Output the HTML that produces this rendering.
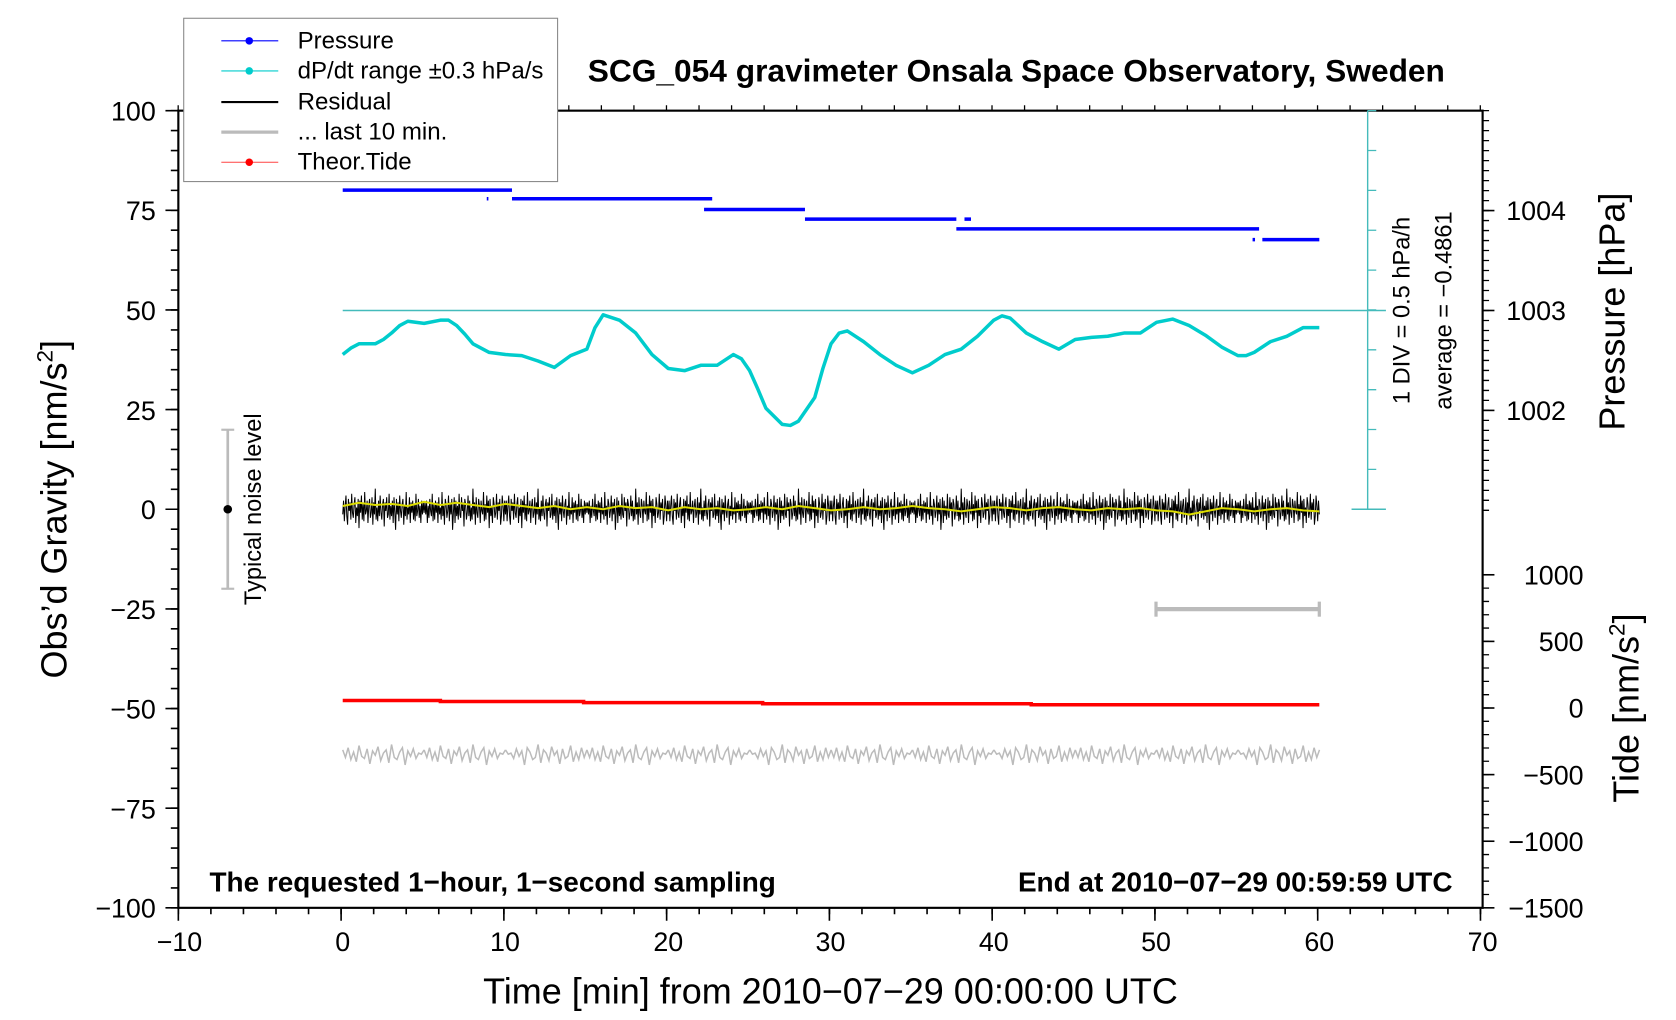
<!DOCTYPE html>
<html><head><meta charset="utf-8"><style>
html,body{margin:0;padding:0;background:#fff;}
svg{display:block;font-family:"Liberation Sans",sans-serif;}
</style></head><body>
<svg width="1676" height="1020" viewBox="0 0 1560 949.4" xmlns="http://www.w3.org/2000/svg">
<defs>
<polyline id="nz" fill="none" stroke="#000" stroke-width="1" vector-effect="non-scaling-stroke" points="0,477 1,469 2,481 3,472 4,466 5,478 6,483 7,468 8,475 9,470 10,480 11,465 12,476 13,479 14,471 15,467 16,482 17,473 18,478 19,468 20,485 21,469 22,476 23,466 24,480 25,471 26,481 27,464 28,477 29,475 30,469 31,482 32,472 33,468 34,479 35,476 36,467 37,483 38,470 39,477 40,462 41,480 42,473 43,481 44,469 45,478 46,466 47,476 48,480 49,471 50,468 51,484 52,470 53,475 54,467 55,479 56,477 57,465 58,480 59,472 60,478 61,469 62,482 63,467 64,476 65,486 66,468 67,477 68,470 69,481 70,466 71,475 72,479 73,471 74,468 75,483 76,472 77,478 78,464 79,480 80,473 81,477 82,467 83,482 84,470 85,476 86,469 87,480 88,471 89,481 90,465 91,478 92,475 93,468 94,479 95,472 96,482 97,469 98,477 99,470 100,476"/>
<polyline id="gz" fill="none" stroke="#bbb" stroke-width="1.5" vector-effect="non-scaling-stroke" points="0,698 1,705 2,696 3,707 4,700 5,709 6,694 7,704 8,706 9,697 10,711 11,699 12,703 13,695 14,708 15,701 16,698 17,710 18,693 19,705 20,707 21,700 22,696 23,712 24,699 25,704 26,697 27,706 28,701 29,702 30,698"/>
</defs>
<rect width="1560" height="950" fill="#fff"/>

<g stroke="#000">
<line x1="162.5" y1="102.25" x2="162.5" y2="846" stroke-width="7" stroke-dasharray="1.5 17.05"/>
<line x1="160" y1="102.25" x2="160" y2="846" stroke-width="12" stroke-dasharray="1.5 91.25"/>
<line x1="165.25" y1="848" x2="1381" y2="848" stroke-width="6" stroke-dasharray="1.5 28.8"/>
<line x1="165.25" y1="851" x2="1381" y2="851" stroke-width="12" stroke-dasharray="1.5 150"/>
<line x1="165.25" y1="100.5" x2="1381" y2="100.5" stroke-width="5" stroke-dasharray="1.2 29.1"/>
<line x1="1383" y1="102.4" x2="1383" y2="476" stroke-width="6" stroke-dasharray="1.2 8.1"/>
<line x1="1383" y1="534.4" x2="1383" y2="846" stroke-width="6" stroke-dasharray="1.2 11.2"/>
<g stroke-width="1.5">
<line x1="1380" y1="196" x2="1391" y2="196"/><line x1="1380" y1="289" x2="1391" y2="289"/><line x1="1380" y1="382" x2="1391" y2="382"/>
<line x1="1380" y1="535" x2="1391" y2="535"/><line x1="1380" y1="597" x2="1391" y2="597"/><line x1="1380" y1="659" x2="1391" y2="659"/><line x1="1380" y1="721" x2="1391" y2="721"/><line x1="1380" y1="783" x2="1391" y2="783"/><line x1="1380" y1="845" x2="1391" y2="845"/>
</g>
</g>
<rect x="166" y="103" width="1214" height="742" fill="none" stroke="#000" stroke-width="2"/>

<g stroke="#4bb" stroke-width="1.3">
<line x1="1273" y1="103" x2="1273" y2="474"/>
<line x1="1258" y1="474" x2="1290" y2="474"/>
<line x1="319" y1="289" x2="1290" y2="289"/>
<line x1="1277" y1="102.4" x2="1277" y2="476" stroke-width="8" stroke-dasharray="1.2 35.9"/>
</g>

<g font-size="25" fill="#000">
<text x="145" y="112" text-anchor="end">100</text>
<text x="145" y="205" text-anchor="end">75</text>
<text x="145" y="298" text-anchor="end">50</text>
<text x="145" y="391" text-anchor="end">25</text>
<text x="145" y="483" text-anchor="end">0</text>
<text x="145" y="576" text-anchor="end">−25</text>
<text x="145" y="669" text-anchor="end">−50</text>
<text x="145" y="762" text-anchor="end">−75</text>
<text x="145" y="854" text-anchor="end">−100</text>
<g text-anchor="middle">
<text x="167" y="885">−10</text><text x="319" y="885">0</text><text x="470" y="885">10</text><text x="622" y="885">20</text><text x="773" y="885">30</text><text x="925" y="885">40</text><text x="1076" y="885">50</text><text x="1228" y="885">60</text><text x="1380" y="885">70</text>
</g>
<text x="1402" y="205">1004</text><text x="1402" y="298">1003</text><text x="1402" y="391">1002</text>
<g text-anchor="end">
<text x="1474" y="544">1000</text><text x="1474" y="606">500</text><text x="1474" y="668">0</text><text x="1474" y="730">−500</text><text x="1474" y="792">−1000</text><text x="1474" y="854">−1500</text>
</g>
<text x="946" y="76" font-weight="bold" font-size="29.5" text-anchor="middle">SCG_054 gravimeter Onsala Space Observatory, Sweden</text>
<text x="195" y="830" font-weight="bold" font-size="26">The requested 1−hour, 1−second sampling</text>
<text x="1352" y="830" font-weight="bold" font-size="26" text-anchor="end">End at 2010−07−29 00:59:59 UTC</text>
<text x="773" y="934" font-size="33.5" text-anchor="middle">Time [min] from 2010−07−29 00:00:00 UTC</text>
<text transform="translate(62,474) rotate(-90)" font-size="33.5" text-anchor="middle">Obs’d Gravity [nm/s<tspan font-size="21" dy="-13">2</tspan><tspan dy="13">]</tspan></text>
<text transform="translate(1512,290) rotate(-90)" font-size="33.5" text-anchor="middle">Pressure [hPa]</text>
<text transform="translate(1525,659) rotate(-90)" font-size="33.5" text-anchor="middle">Tide [nm/s<tspan font-size="21" dy="-13">2</tspan><tspan dy="13">]</tspan></text>
<text transform="translate(243,474) rotate(-90)" font-size="22" text-anchor="middle">Typical noise level</text>
<text transform="translate(1312,289) rotate(-90)" font-size="22" text-anchor="middle">1 DIV = 0.5 hPa/h</text>
<text transform="translate(1351,289) rotate(-90)" font-size="22" text-anchor="middle">average = −0.4861</text>
</g>

<g transform="translate(319,0) scale(15.15,1)">
<g stroke="#00f" stroke-width="3.5" fill="none">
<path vector-effect="non-scaling-stroke" d="M0,177 H10.4 M10.4,185 H22.7 M22.2,195 H28.4 M28.4,204 H37.7 M37.7,213 H56.3 M56.5,223 H60"/>
<path vector-effect="non-scaling-stroke" d="M8.85,185 H8.95 M38.2,204 H38.6 M55.9,223 H56.05"/>
</g>
<polyline fill="none" stroke="#0cc" stroke-width="3.5" stroke-linejoin="round" vector-effect="non-scaling-stroke" points="0,330 0.5,324 1,320 2,320 2.5,316 3,310 3.5,303 4,299 5,301 6,298 6.5,298 7,303 7.5,311 8,320 9,328 10,330 11,331 12,336 13,342 14,331 15,325 15.5,305 16,293 17,298 18,310 19,330 20,343 21,345 22,340 23,340 24,330 24.5,334 25,345 25.5,362 26,380 27,395 27.5,396 28,392 29,370 29.5,343 30,320 30.5,310 31,308 32,318 33,330 34,340 35,347 36,340 37,330 38,325 39,313 40,298 40.5,294 41,296 42,310 43,318 44,325 45,316 46,314 47,313 48,310 49,310 50,300 51,297 52,303 53,312 54,323 55,331 55.5,331 56,328 57,318 58,313 59,305 60,305"/>
<g transform="translate(0,474) scale(0.05,1.6) translate(0,-474)">
<use href="#nz" x="0"/><use href="#nz" transform="translate(200,0) scale(-1,1)"/>
<use href="#nz" x="200"/><use href="#nz" transform="translate(400,0) scale(-1,1)"/>
<use href="#nz" x="400"/><use href="#nz" transform="translate(600,0) scale(-1,1)"/>
<use href="#nz" x="600"/><use href="#nz" transform="translate(800,0) scale(-1,1)"/>
<use href="#nz" x="800"/><use href="#nz" transform="translate(1000,0) scale(-1,1)"/>
<use href="#nz" x="1000"/><use href="#nz" transform="translate(1200,0) scale(-1,1)"/>
</g>
<polyline fill="none" stroke="#dd0" stroke-width="2" vector-effect="non-scaling-stroke" points="0,471 1,468 2,470 3,469 4,471 5,467 6,470 7,468 8,470 9,472 10,469 11,471 12,473 13,471 14,474 15,472 16,474 17,471 18,473 19,472 20,475 21,472 22,474 23,473 24,475 25,474 26,472 27,474 28,471 29,473 30,475 31,474 32,472 33,474 34,473 35,471 36,473 37,474 38,476 39,474 40,472 41,473 42,475 43,473 44,472 45,474 46,475 47,473 48,474 49,473 50,475 51,476 52,479 53,476 54,473 55,474 56,476 57,474 58,473 59,475 60,476"/>
<path vector-effect="non-scaling-stroke" fill="none" stroke="#f00" stroke-width="3.5" d="M0,652 H6 V653 H14.8 V654 H25.8 V655 H42.3 V656 H60"/>
<g transform="scale(0.1667,1)">
<use href="#gz" x="0"/><use href="#gz" x="30"/><use href="#gz" transform="translate(90,0) scale(-1,1)"/><use href="#gz" x="90"/><use href="#gz" x="120"/><use href="#gz" transform="translate(180,0) scale(-1,1)"/><use href="#gz" x="180"/><use href="#gz" x="210"/><use href="#gz" transform="translate(270,0) scale(-1,1)"/><use href="#gz" x="270"/><use href="#gz" x="300"/><use href="#gz" transform="translate(360,0) scale(-1,1)"/>
</g>
</g>

<g stroke="#bbb">
<line x1="1076" y1="567" x2="1228" y2="567" stroke-width="4"/>
<line x1="1076" y1="560" x2="1076" y2="574" stroke-width="3"/>
<line x1="1228" y1="560" x2="1228" y2="574" stroke-width="3"/>
<line x1="212" y1="400" x2="212" y2="548" stroke-width="2.5"/>
<line x1="206" y1="400" x2="218" y2="400" stroke-width="2"/>
<line x1="206" y1="548" x2="218" y2="548" stroke-width="2"/>
</g>
<circle cx="212" cy="474" r="4" fill="#000"/>

<rect x="171" y="17" width="348" height="152" fill="#fff" stroke="#888" stroke-width="1"/>
<g font-size="22.4">
<line x1="206" y1="38" x2="259" y2="38" stroke="#00f"/><circle cx="232" cy="38" r="3.5" fill="#00f"/><text x="277" y="45">Pressure</text>
<line x1="206" y1="66" x2="259" y2="66" stroke="#0cc"/><circle cx="232" cy="66" r="3.5" fill="#0cc"/><text x="277" y="73">dP/dt range ±0.3 hPa/s</text>
<line x1="206" y1="95" x2="259" y2="95" stroke="#000" stroke-width="2"/><text x="277" y="102">Residual</text>
<line x1="206" y1="123" x2="259" y2="123" stroke="#bbb" stroke-width="3"/><text x="277" y="130">... last 10 min.</text>
<line x1="206" y1="151" x2="259" y2="151" stroke="#f44"/><circle cx="232" cy="151" r="3.5" fill="#f00"/><text x="277" y="158">Theor.Tide</text>
</g>
</svg>
</body></html>
